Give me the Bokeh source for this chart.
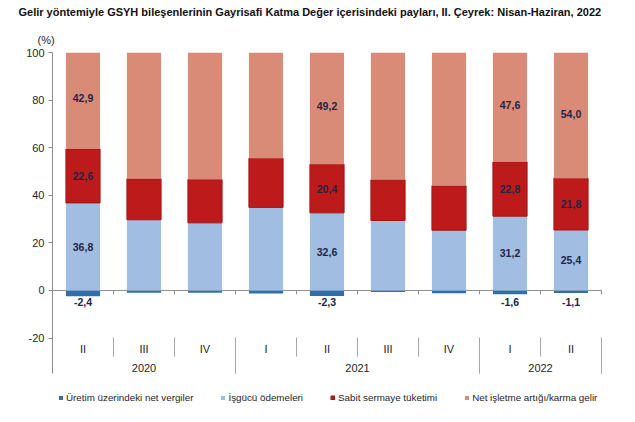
import numpy as np
from bokeh.plotting import figure
from bokeh.models import (Range1d, FixedTicker, Legend, LegendItem,
                          ColumnDataSource, Title)
from bokeh.core.properties import value
from bokeh.embed import file_html
from bokeh.resources import INLINE

# ---------------- data ----------------
title_text = ("Gelir yöntemiyle GSYH bileşenlerinin Gayrisafi Katma Değer "
              "içerisindeki payları, II. Çeyrek: Nisan-Haziran, 2022")
unit_text = "(%)"
quarters = ["II", "III", "IV", "I", "II", "III", "IV", "I", "II"]
years = ["2020", "2020", "2020", "2021", "2021", "2021", "2021", "2022", "2022"]
net_taxes = [-2.4, -1.0, -1.0, -1.3, -2.3, -0.7, -1.2, -1.6, -1.1]
labour = [36.8, 29.7, 28.4, 34.9, 32.6, 29.4, 25.3, 31.2, 25.4]
capital = [22.6, 17.2, 18.2, 20.7, 20.4, 17.1, 18.7, 22.8, 21.8]
surplus = [42.9, 54.1, 54.4, 45.7, 49.2, 54.2, 57.2, 47.6, 54.0]
labelled = [True, False, False, False, True, False, False, True, True]
series_names = ["Üretim üzerindeki net vergiler", "İşgücü ödemeleri",
                "Sabit sermaye tüketimi", "Net işletme artığı/karma gelir"]
y_ticks = [-20, 0, 20, 40, 60, 80, 100]

# ---------------- styles ----------------
FONT = "Liberation Sans"
C_TAX = "#2F6FAA"
C_LAB = "#A2BDE2"
C_CAP = "#BD1B1B"
C_SUR = "#D98B78"
LABEL_COL = "#1C2646"
AX_COL = "#8C8C8C"
SEP_COL = "#A6A6A6"
TXT_COL = "#262626"
Y_MIN, Y_MAX = -55.5, 100
AX_BOTTOM = -35
UNIT_W = 61.0  # px per category

n = len(quarters)
x = np.arange(n)
tax = np.array(net_taxes)
lab = np.array(labour)
cap = np.array(capital)
sur = np.array(surplus)
cap_top = lab + cap
sur_top = np.minimum(cap_top + sur, Y_MAX)

src = ColumnDataSource(dict(
    x=x, zero=np.zeros(n), tax=tax, lab_top=lab, cap_top=cap_top,
    sur_top=sur_top))

x_end = -0.5 + (635 - 52) / UNIT_W
p = figure(width=635, height=422, output_backend="svg", toolbar_location=None,
           x_range=Range1d(-0.5, x_end), y_range=Range1d(Y_MIN, Y_MAX),
           x_axis_location=None, title=None,
           min_border_left=52, min_border_right=0, min_border_top=52,
           min_border_bottom=0)
p.outline_line_color = None
p.grid.visible = False
p.background_fill_color = "white"

p.add_layout(Title(text=unit_text, align="left", offset=-15,
                   text_font=FONT, text_font_size="11px",
                   text_font_style="normal", text_color=TXT_COL,
                   vertical_align="bottom", standoff=14), "above")
p.add_layout(Title(text=title_text, align="left", offset=-34,
                   text_font=FONT, text_font_size="11px",
                   text_font_style="bold", text_color="#111111",
                   vertical_align="top", standoff=10), "above")

ya = p.yaxis[0]
ya.ticker = FixedTicker(ticks=y_ticks)
ya.major_label_overrides = {t: str(t) for t in y_ticks}
ya.bounds = (AX_BOTTOM, Y_MAX)
ya.axis_line_color = AX_COL
ya.major_tick_line_color = AX_COL
ya.major_tick_out = 4
ya.major_tick_in = 0
ya.minor_tick_line_color = None
ya.major_label_text_font = FONT
ya.major_label_text_font_size = "11px"
ya.major_label_text_color = TXT_COL
ya.major_label_standoff = 4

W = 0.56
p.segment(x0=[-0.5], y0=[0], x1=[n - 0.5], y1=[0], line_color=AX_COL, line_width=1)

r_tax = p.vbar(x="x", width=W, bottom="zero", top="tax", source=src,
               fill_color=C_TAX, line_color=None)
r_lab = p.vbar(x="x", width=W, bottom="zero", top="lab_top", source=src,
               fill_color=C_LAB, line_color=None)
r_cap = p.vbar(x="x", width=W, bottom="lab_top", top="cap_top", source=src,
               fill_color=C_CAP, line_color="#A31414", line_width=1)
r_sur = p.vbar(x="x", width=W, bottom="cap_top", top="sur_top", source=src,
               fill_color=C_SUR, line_color=None)

bnd = np.arange(n + 1) - 0.5
p.segment(x0=bnd, y0=np.zeros(n + 1), x1=bnd, y1=np.full(n + 1, -1.6),
          line_color=AX_COL, line_width=1)

# data labels
def fmt(v):
    return f"{v:.1f}".replace(".", ",")

lx, ly, lt = [], [], []
for i in range(n):
    if not labelled[i]:
        continue
    lx += [int(x[i])] * 4
    ly += [lab[i] / 2, lab[i] + cap[i] / 2, lab[i] + cap[i] + sur[i] / 2, -5.0]
    lt += [fmt(lab[i]), fmt(cap[i]), fmt(sur[i]), fmt(tax[i])]
p.text(x=lx, y=ly, text=lt, text_font=value(FONT), text_font_size="10.5px",
       text_font_style="bold", text_color=LABEL_COL,
       text_align="center", text_baseline="middle")

# category axis: quarter labels, year labels, separators
p.text(x=[int(v) for v in x], y=[-24.4] * n, text=quarters,
       text_font=value(FONT), text_font_size="11px", text_color=TXT_COL,
       text_align="center", text_baseline="middle")
year_names, year_pos, year_sep = [], [], [-0.5]
for i in range(n):
    if i == 0 or years[i] != years[i - 1]:
        grp = [j for j in range(n) if years[j] == years[i]]
        year_names.append(years[i])
        year_pos.append(float(np.mean(grp)))
        year_sep.append(grp[-1] + 0.5)
p.text(x=year_pos, y=[-32.4] * len(year_pos), text=year_names,
       text_font=value(FONT), text_font_size="11px", text_color=TXT_COL,
       text_align="center", text_baseline="middle")
q_sep = [float(b) for b in bnd if b not in year_sep]
p.segment(x0=q_sep, y0=[-19.8] * len(q_sep), x1=q_sep, y1=[-27.8] * len(q_sep),
          line_color=SEP_COL, line_width=1)
ys = year_sep[1:]
p.segment(x0=ys, y0=[-19.8] * len(ys), x1=ys, y1=[AX_BOTTOM] * len(ys),
          line_color=SEP_COL, line_width=1)

legend = Legend(items=[LegendItem(label=series_names[0], renderers=[r_tax]),
                       LegendItem(label=series_names[1], renderers=[r_lab]),
                       LegendItem(label=series_names[2], renderers=[r_cap]),
                       LegendItem(label=series_names[3], renderers=[r_sur])],
                location=(6, 19), orientation="horizontal",
                glyph_width=5, glyph_height=5, label_standoff=3, spacing=27,
                padding=0, margin=0, border_line_color=None,
                background_fill_alpha=0, label_text_font=FONT,
                label_text_font_size="9.8px", label_height=10,
                label_text_color=TXT_COL)
p.add_layout(legend)

open("out.html", "w").write(file_html(p, INLINE))
